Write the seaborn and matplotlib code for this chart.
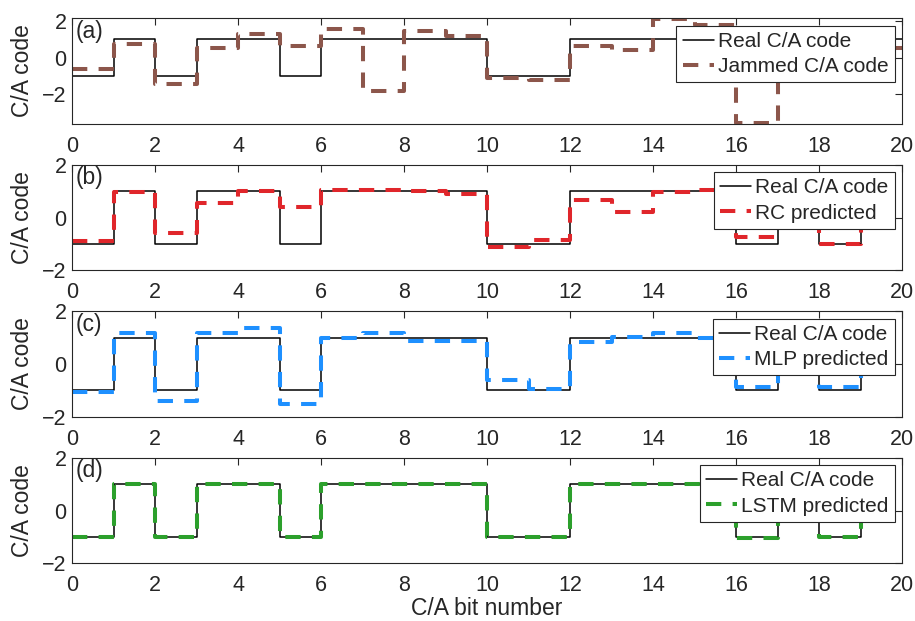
import matplotlib
matplotlib.use('Agg')
import matplotlib.pyplot as plt
import seaborn as sns
import numpy as np

# C/A bit index
bits_a = list(range(21))
bits = list(range(20))

# real C/A code (panel a shows one extra bit at the right edge)
real_code = [-1, 1, -1, 1, 1, -1, 1, 1, 1, 1, -1, -1, 1, 1, 1, 1, -1, 1, -1, 1, 1]

jammed = [-0.62, 0.73, -1.42, 0.55, 1.32, 0.64, 1.56, -1.83, 1.45, 1.17,
          -1.10, -1.20, 0.64, 0.42, 2.13, 1.77, -3.55, 1.20, -0.90, 0.53, 0.53]
rc_pred = [-0.90, 0.97, -0.60, 0.55, 1.00, 0.40, 1.03, 1.03, 1.00, 0.90,
           -1.13, -0.85, 0.67, 0.20, 0.97, 1.05, -0.73, 1.00, -1.00, 1.00]
mlp_pred = [-1.07, 1.19, -1.42, 1.19, 1.38, -1.51, 1.00, 1.19, 0.88, 0.88,
            -0.62, -0.94, 0.84, 1.03, 1.19, 1.00, -0.87, 1.00, -0.87, 1.00]
lstm_pred = [-1.00, 1.00, -1.00, 1.00, 1.00, -1.00, 1.00, 1.00, 1.00, 1.00,
             -1.00, -1.00, 1.00, 1.00, 1.00, 1.00, -1.03, 1.00, -1.02, 1.00]

panels = [
    ('(a)', bits_a, real_code, jammed, 'Jammed C/A code', '#8c564b', (-3.6, 2.15)),
    ('(b)', bits, real_code[:20], rc_pred, 'RC predicted', '#e0262b', (-2, 2)),
    ('(c)', bits, real_code[:20], mlp_pred, 'MLP predicted', '#1e90ff', (-2, 2)),
    ('(d)', bits, real_code[:20], lstm_pred, 'LSTM predicted', '#2ca02c', (-2, 2)),
]

sns.set_style('white')
plt.rcParams['font.family'] = ['Liberation Sans', 'DejaVu Sans']

fig, axes = plt.subplots(4, 1, figsize=(9.15, 6.21), dpi=100)
fig.subplots_adjust(left=0.0787, right=0.986, top=0.9705, bottom=0.093, hspace=0.39)

for ax, (tag, x, real, pred, label, color, ylim) in zip(axes, panels):
    sns.lineplot(x=x, y=real, ax=ax, color='black', linewidth=1.1,
                 drawstyle='steps-post', label='Real C/A code')
    sns.lineplot(x=x, y=pred, ax=ax, color=color, linewidth=2.9,
                 linestyle=(0, (3.8, 2.8)), drawstyle='steps-post', label=label)
    ax.set_xlim(0, 20)
    ax.set_ylim(*ylim)
    ax.set_xticks(np.arange(0, 21, 2))
    ax.set_yticks([-2, 0, 2])
    ax.tick_params(direction='in', length=5, width=0.8, top=True, right=True,
                   labelsize=15.5, colors='#262626')
    ax.tick_params(axis='x', pad=8.5)
    ax.tick_params(axis='y', pad=4)
    for sp in ax.spines.values():
        sp.set_color('#262626')
        sp.set_linewidth(0.8)
    ax.set_ylabel('C/A code', fontsize=16.5, labelpad=6)
    ax.set_xlabel('')
    ax.text(0.004, 0.985, tag, transform=ax.transAxes, fontsize=16.5,
            va='top', ha='left')
    leg = ax.legend(loc='upper right', fontsize=15, frameon=True, fancybox=False,
                    framealpha=1, edgecolor='#262626', handlelength=1.5,
                    handletextpad=0.2, borderpad=0.3, labelspacing=0.3,
                    borderaxespad=0.35)
    leg.get_frame().set_linewidth(0.8)

axes[-1].set_xlabel('C/A bit number', fontsize=16.5, labelpad=1)

fig.savefig('out.png', dpi=100)
